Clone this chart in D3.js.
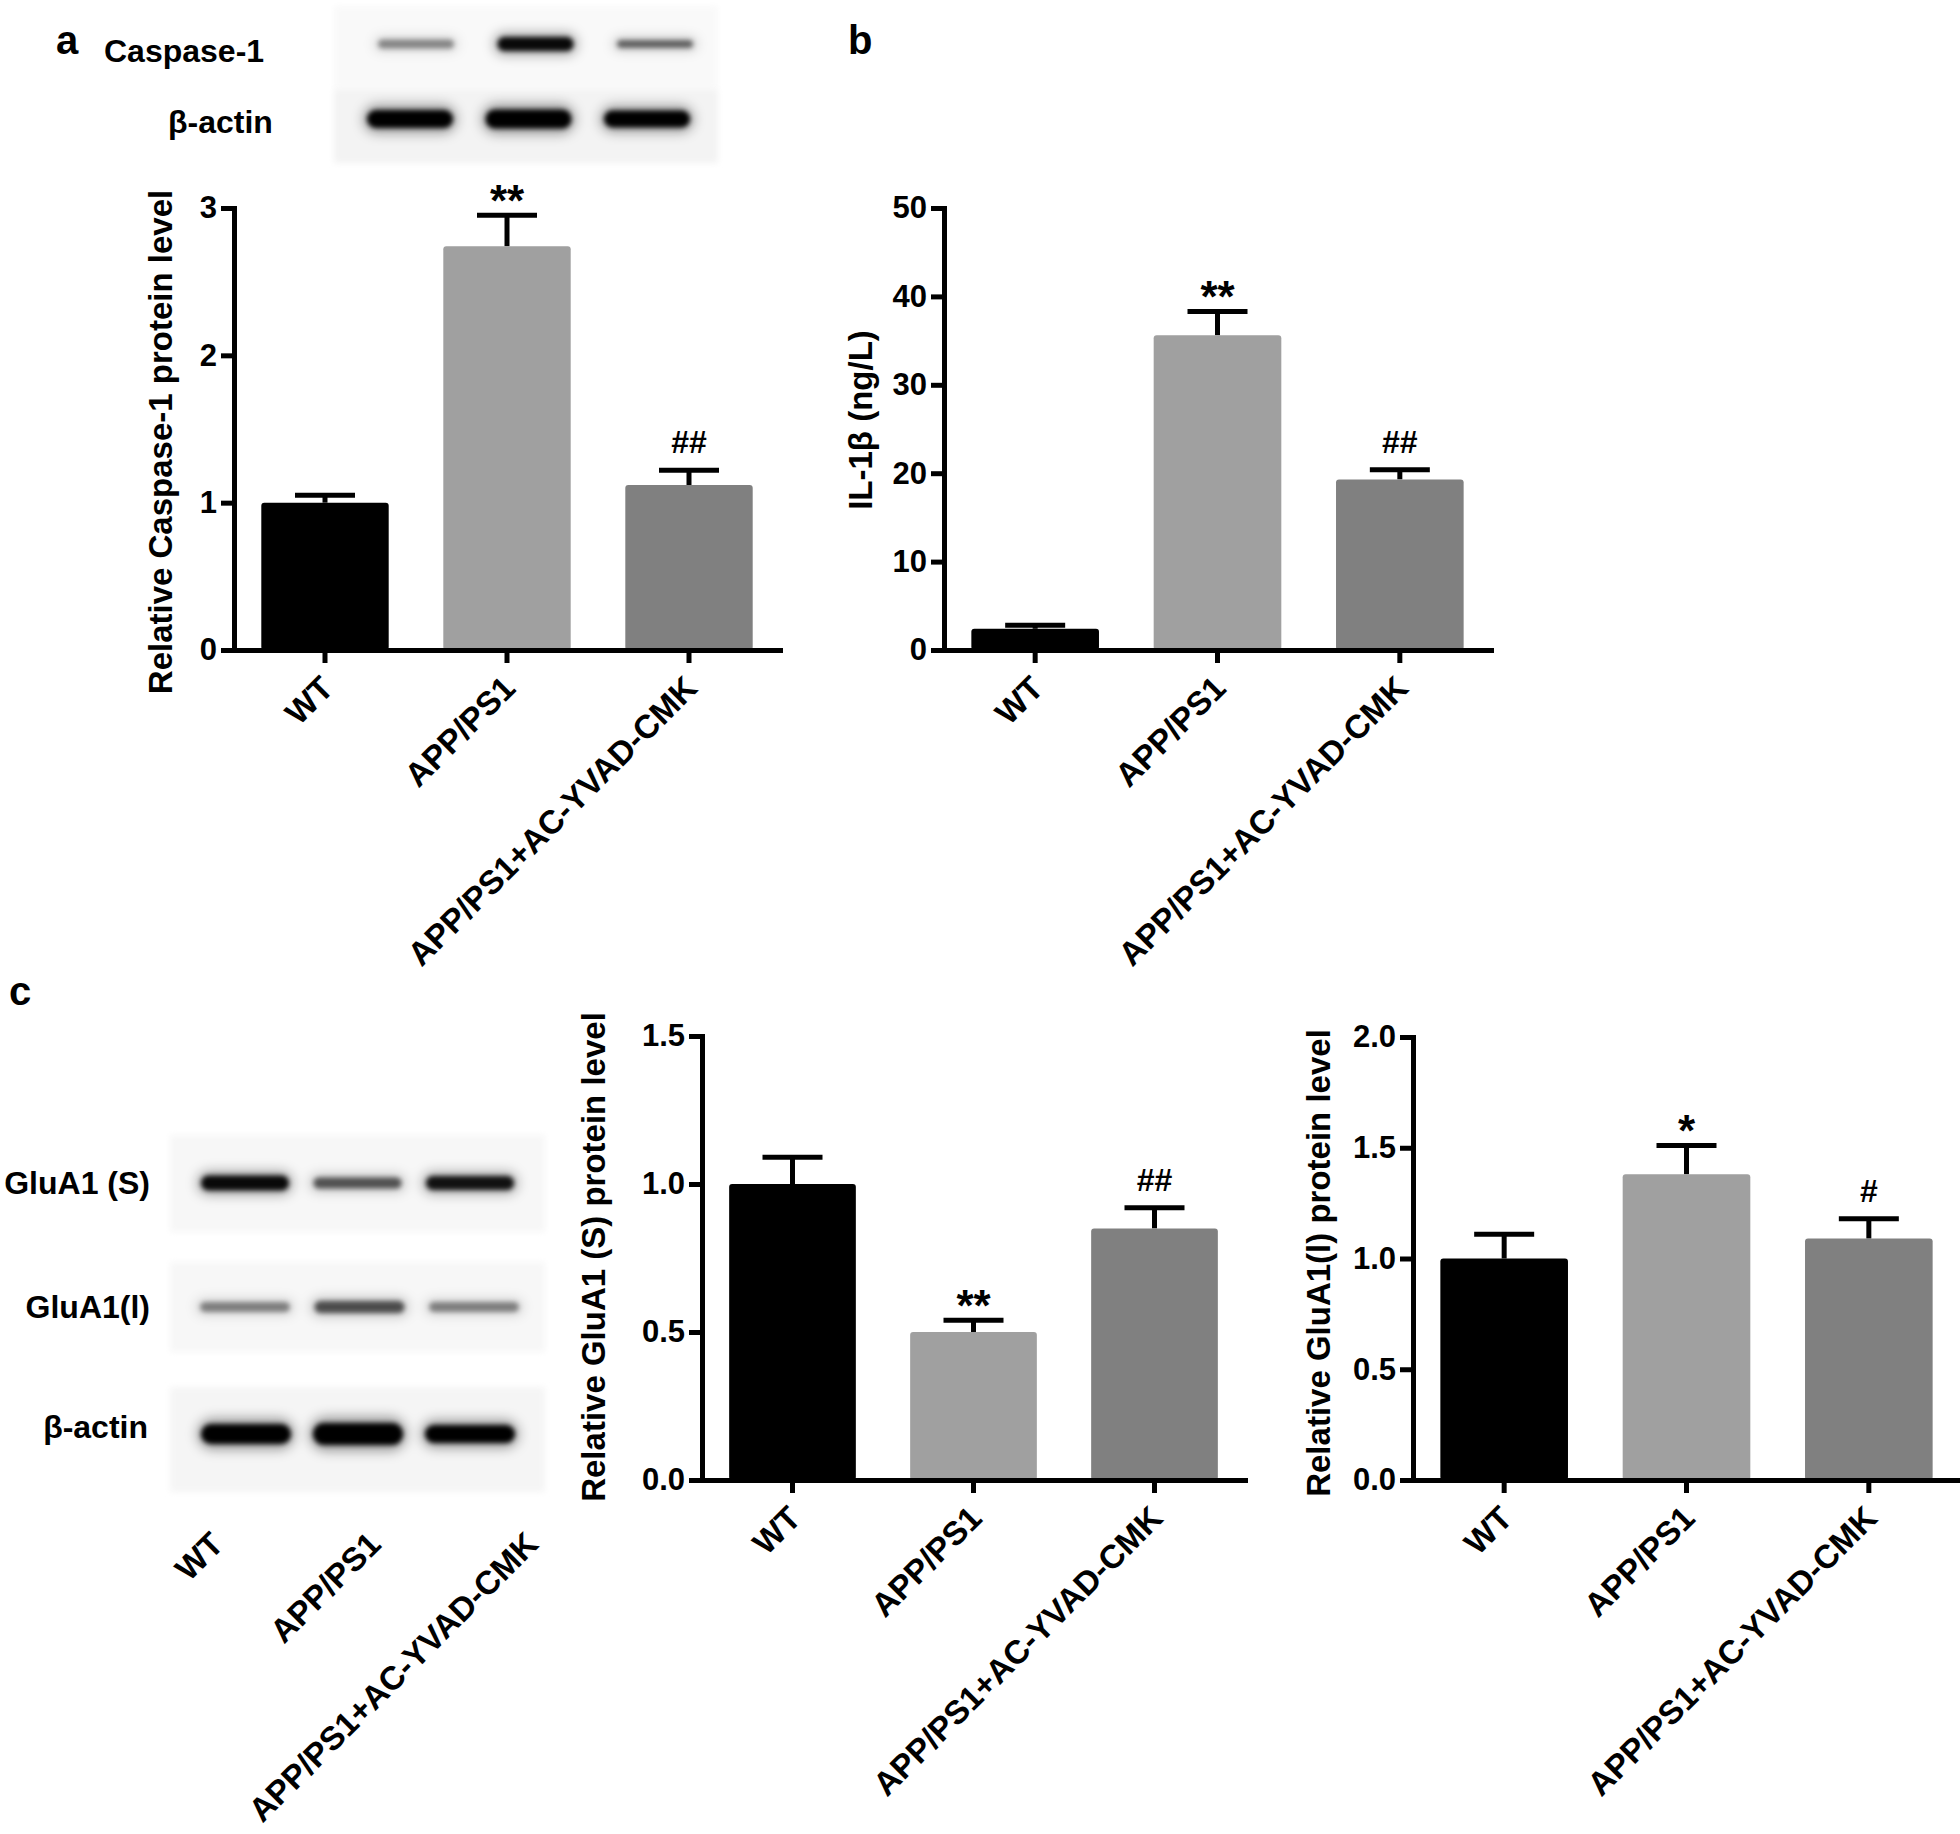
<!DOCTYPE html>
<html>
<head>
<meta charset="utf-8">
<script src="https://cdn.jsdelivr.net/npm/d3@7"></script>
<style>
  body { margin: 0; background: #fff; }
  svg { display: block; font-family: "Liberation Sans", Arial, sans-serif; }
</style>
</head>
<body>
<svg id="fig" width="1960" height="1834"></svg>
<script>
// groups + colours shared by every panel
const groups = ["WT", "APP/PS1", "APP/PS1+AC-YVAD-CMK"];
const barColors = ["#000000", "#a0a0a0", "#808080"];

// panel a: caspase-1 protein
const caspaseMean = [1.0, 2.74, 1.12];
const caspaseErr = [0.05, 0.21, 0.10];
const caspaseSig = ["", "**", "##"];
const caspaseTicks = [0, 1, 2, 3];

// panel b: IL-1beta
const il1bMean = [2.4, 35.6, 19.3];
const il1bErr = [0.4, 2.7, 1.1];
const il1bSig = ["", "**", "##"];
const il1bTicks = [0, 10, 20, 30, 40, 50];

// panel c: GluA1 (S)
const gluSMean = [1.0, 0.50, 0.85];
const gluSErr = [0.09, 0.04, 0.07];
const gluSSig = ["", "**", "##"];
const gluSTicks = [0, 0.5, 1.0, 1.5];

// panel c: GluA1 (l)
const gluLMean = [1.0, 1.38, 1.09];
const gluLErr = [0.11, 0.13, 0.09];
const gluLSig = ["", "*", "#"];
const gluLTicks = [0, 0.5, 1.0, 1.5, 2.0];

// western blot band darkness (0-1) and thickness per lane
const caspaseBand = [0.4, 0.95, 0.55];
const caspaseThick = [9, 14, 8];
const actinBandA = [1, 1, 1];
const actinThickA = [18, 19, 17];
const gluSBand = [0.95, 0.6, 0.9];
const gluSThick = [15, 11, 14];
const gluLBand = [0.42, 0.62, 0.42];
const gluLThick = [10, 12, 10];
const actinBandC = [1, 1, 1];
const actinThickC = [20, 22, 18];

const svg = d3.select("#fig");
const defs = svg.append("defs");
// soft halo + sharper core for gel bands
defs.append("filter").attr("id", "halo")
    .attr("x", "-30%").attr("y", "-300%").attr("width", "160%").attr("height", "700%")
    .append("feGaussianBlur").attr("stdDeviation", 6);
defs.append("filter").attr("id", "core")
    .attr("x", "-30%").attr("y", "-200%").attr("width", "160%").attr("height", "500%")
    .append("feGaussianBlur").attr("stdDeviation", 2.8);
defs.append("filter").attr("id", "edge")
    .attr("x", "-10%").attr("y", "-10%").attr("width", "120%").attr("height", "120%")
    .append("feGaussianBlur").attr("stdDeviation", 3);

const AXIS_W = 5;

/**
 * Draw one Prism-style bar chart with SEM bars, rotated group labels
 */
function barChart(cfg) {
    const x = d3.scaleBand().domain(groups).range([cfg.x0, cfg.x1])
        .paddingInner(0.3).paddingOuter(0.15);
    const y = d3.scaleLinear().domain([0, cfg.max]).range([cfg.y0, cfg.y1]);
    const g = svg.append("g");
    const cx = d => x(d) + x.bandwidth() / 2;

    // error bars (upper half only)
    const eb = g.append("g").attr("stroke", "#000").attr("stroke-width", 5);
    groups.forEach((d, i) => {
        const top = y(cfg.mean[i] + cfg.err[i]);
        eb.append("line").attr("x1", cx(d)).attr("x2", cx(d))
            .attr("y1", y(cfg.mean[i])).attr("y2", top);
        eb.append("line").attr("x1", cx(d) - 30).attr("x2", cx(d) + 30)
            .attr("y1", top).attr("y2", top);
    });

    // bars
    g.selectAll("rect.bar").data(groups).join("rect")
        .attr("class", "bar")
        .attr("x", d => x(d))
        .attr("y", (d, i) => y(cfg.mean[i]))
        .attr("width", x.bandwidth())
        .attr("height", (d, i) => y(0) - y(cfg.mean[i]))
        .attr("rx", 3)
        .attr("fill", (d, i) => barColors[i]);

    // significance marks
    g.selectAll("text.sig").data(groups).join("text")
        .attr("class", "sig")
        .attr("x", cx)
        .attr("y", (d, i) => y(cfg.mean[i] + cfg.err[i]) - 28)
        .attr("text-anchor", "middle")
        .attr("dominant-baseline", "central")
        .attr("font-weight", "bold")
        .attr("font-size", (d, i) => cfg.sig[i].includes("*") ? 44 : 32)
        .attr("dy", (d, i) => cfg.sig[i].includes("*") ? "0.3em" : "0")
        .text((d, i) => cfg.sig[i]);

    // y axis
    const ya = g.append("g").attr("transform", `translate(${cfg.x0},0)`)
        .call(d3.axisLeft(y).tickValues(cfg.ticks).tickFormat(cfg.fmt)
            .tickSize(13).tickSizeOuter(0).tickPadding(4));
    // x axis
    const xa = g.append("g").attr("transform", `translate(0,${cfg.y0})`)
        .call(d3.axisBottom(x).tickSize(13).tickSizeOuter(0).tickFormat(""));

    [ya, xa].forEach(a => {
        a.select(".domain").attr("stroke-width", AXIS_W).attr("stroke-linecap", "square");
        a.selectAll(".tick line").attr("stroke-width", AXIS_W);
    });
    ya.selectAll(".tick text").attr("font-size", 31).attr("font-weight", "bold")
        .attr("font-family", "Liberation Sans, Arial, sans-serif").attr("fill", "#000");

    // rotated group labels
    g.selectAll("text.xl").data(groups).join("text")
        .attr("class", "xl")
        .attr("transform", d => `translate(${cx(d) + 2},${cfg.y0 + 32}) rotate(-45)`)
        .attr("text-anchor", "end")
        .attr("dy", "0.35em")
        .attr("font-size", 33).attr("font-weight", "bold")
        .text(d => d);

    // y title
    g.append("text")
        .attr("transform", `translate(${cfg.titleX},${cfg.titleY}) rotate(-90)`)
        .attr("text-anchor", "middle")
        .attr("font-size", 33).attr("font-weight", "bold")
        .text(cfg.title);
}

/**
 * Draw a blot strip: faint background + blurred bands
 */
function blotStrip(cfg) {
    const lane = d3.scalePoint().domain(groups).range(cfg.lanes);
    svg.append("rect")
        .attr("x", cfg.x0).attr("y", cfg.top)
        .attr("width", cfg.x1 - cfg.x0).attr("height", cfg.bottom - cfg.top)
        .attr("fill", cfg.bg).attr("filter", "url(#edge)");
    // halo
    svg.append("g").attr("filter", "url(#halo)")
        .selectAll("rect").data(groups).join("rect")
        .attr("x", d => lane(d) - cfg.w / 2)
        .attr("y", (d, i) => cfg.cy - cfg.thick[i] * 0.8)
        .attr("width", cfg.w)
        .attr("height", (d, i) => cfg.thick[i] * 1.6)
        .attr("rx", (d, i) => cfg.thick[i] * 0.8)
        .attr("fill", "#000")
        .attr("fill-opacity", (d, i) => cfg.dark[i] * 0.35);
    // core
    svg.append("g").attr("filter", "url(#core)")
        .selectAll("rect").data(groups).join("rect")
        .attr("x", d => lane(d) - cfg.w / 2 + 4)
        .attr("y", (d, i) => cfg.cy - cfg.thick[i] / 2)
        .attr("width", cfg.w - 8)
        .attr("height", (d, i) => cfg.thick[i])
        .attr("rx", (d, i) => cfg.thick[i] / 2)
        .attr("fill", "#000")
        .attr("fill-opacity", (d, i) => cfg.dark[i]);
    svg.append("text")
        .attr("x", cfg.labelX).attr("y", cfg.labelY)
        .attr("text-anchor", cfg.anchor || "start")
        .attr("font-size", cfg.fs || 31).attr("font-weight", "bold")
        .text(cfg.label);
}

// panel letters
[["a", 56, 54], ["b", 848, 54], ["c", 9, 1005]].forEach(([t, x, y]) => {
    svg.append("text").attr("x", x).attr("y", y)
        .attr("font-size", 40).attr("font-weight", "bold").text(t);
});

// ---- panel a blot ----
blotStrip({ x0: 334, x1: 718, top: 6, bottom: 89, lanes: [416, 655], w: 84, cy: 44, bg: "#f9f9f9",
    dark: caspaseBand, thick: caspaseThick, label: "Caspase-1", labelX: 104, labelY: 62, fs: 32 });
blotStrip({ x0: 334, x1: 718, top: 89, bottom: 163, lanes: [410, 647], w: 94, cy: 119, bg: "#f3f3f3",
    dark: actinBandA, thick: actinThickA, label: "β-actin", labelX: 168, labelY: 133, fs: 32 });

// ---- panel a chart ----
barChart({ x0: 234, x1: 780, y0: 650, y1: 208, max: 3, ticks: caspaseTicks, fmt: d3.format("d"),
    mean: caspaseMean, err: caspaseErr, sig: caspaseSig,
    title: "Relative Caspase-1 protein level", titleX: 172, titleY: 442 });

// ---- panel b chart ----
barChart({ x0: 944, x1: 1491, y0: 650, y1: 208, max: 50, ticks: il1bTicks, fmt: d3.format("d"),
    mean: il1bMean, err: il1bErr, sig: il1bSig,
    title: "IL-1β (ng/L)", titleX: 872, titleY: 420 });

// ---- panel c blot ----
blotStrip({ x0: 170, x1: 545, top: 1135, bottom: 1232, lanes: [245, 470], w: 96, cy: 1183, bg: "#f7f7f7",
    dark: gluSBand, thick: gluSThick, label: "GluA1 (S)", labelX: 150, labelY: 1194, anchor: "end", fs: 32 });
blotStrip({ x0: 170, x1: 545, top: 1262, bottom: 1352, lanes: [245, 474], w: 98, cy: 1307, bg: "#f7f7f7",
    dark: gluLBand, thick: gluLThick, label: "GluA1(l)", labelX: 150, labelY: 1318, anchor: "end", fs: 32 });
blotStrip({ x0: 170, x1: 545, top: 1387, bottom: 1492, lanes: [246, 470], w: 98, cy: 1434, bg: "#f5f5f5",
    dark: actinBandC, thick: actinThickC, label: "β-actin", labelX: 148, labelY: 1438, anchor: "end", fs: 32 });

// blot lane labels
const laneLab = d3.scalePoint().domain(groups).range([215, 530]);
svg.append("g").selectAll("text").data(groups).join("text")
    .attr("transform", d => `translate(${laneLab(d) + 2},${1506 + 32}) rotate(-45)`)
    .attr("text-anchor", "end").attr("dy", "0.35em")
    .attr("font-size", 33).attr("font-weight", "bold")
    .text(d => d);

// ---- panel c charts ----
barChart({ x0: 702, x1: 1245, y0: 1480, y1: 1036, max: 1.5, ticks: gluSTicks, fmt: d3.format(".1f"),
    mean: gluSMean, err: gluSErr, sig: gluSSig,
    title: "Relative GluA1 (S) protein level", titleX: 605, titleY: 1257 });

barChart({ x0: 1413, x1: 1960, y0: 1480, y1: 1037, max: 2.0, ticks: gluLTicks, fmt: d3.format(".1f"),
    mean: gluLMean, err: gluLErr, sig: gluLSig,
    title: "Relative GluA1(l) protein level", titleX: 1330, titleY: 1263 });
</script>
</body>
</html>
